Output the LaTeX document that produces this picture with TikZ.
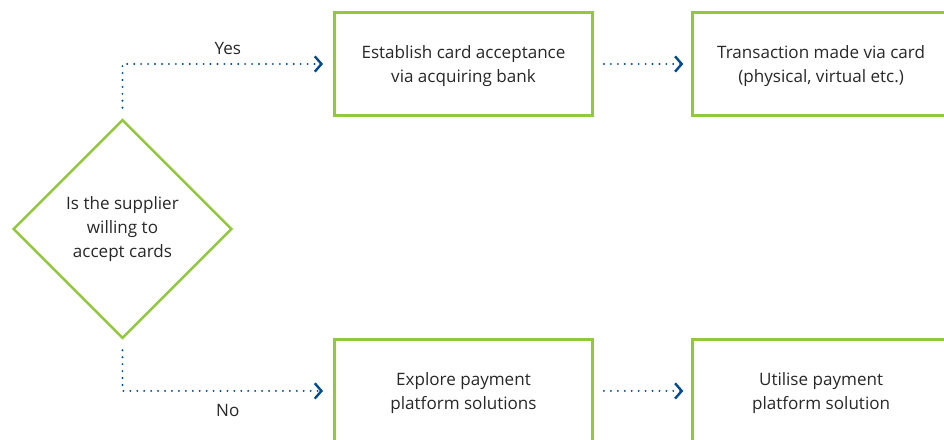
\documentclass[tikz,border=0pt]{standalone}
\usepackage{fontspec}
\setmainfont{Open Sans}
\usepackage{tikz}
\usetikzlibrary{arrows.meta, positioning, shapes.geometric}
\definecolor{lime}{RGB}{146,200,62}
\definecolor{navy}{RGB}{0,75,145}
\definecolor{ink}{RGB}{40,40,40}
\tikzset{
  stepbox/.style={rectangle, draw=lime, line width=2.2pt, fill=white,
              minimum width=193.5pt, minimum height=77.5pt, align=center,
              text depth=0pt, font=\fontsize{12.8}{18}\selectfont, text=ink},
  % losango da decisao
  dec/.style={diamond, draw=lime, line width=1.9pt, fill=white, aspect=1,
              minimum width=164pt, minimum height=164pt, inner sep=0pt,
              align=center, font=\fontsize{12.8}{18}\selectfont, text=ink},
  ar/.style={-{Straight Barb[length=5pt, width=11.5pt, line width=1.8pt]},
             draw=navy, line width=1.6pt, line cap=round,
             dash pattern=on 0pt off 5.2pt},
  lbl/.style={font=\fontsize{12.8}{14}\selectfont, text=ink}
}

\begin{document}
\begin{tikzpicture}[x=0.75pt, y=-0.75pt]
    \useasboundingbox (0,0) rectangle (944,439);
    \clip (0,0) rectangle (944,439);
    \node[dec] (ask) at (122.5,229) {Is the supplier\\willing to\\accept cards};
    \node[stepbox] (accept) at (463.5,64) {Establish card acceptance\\via acquiring bank};
    \node[stepbox, right=72.5pt of accept] (txn) {Transaction made via card\\(physical, virtual etc.)};
    \node[stepbox, below=165.5pt of accept] (explore) {Explore payment\\platform solutions};
    \node[stepbox, right=72.5pt of explore] (use) {Utilise payment\\platform solution};
    \draw[ar, shorten <=8pt, shorten >=7.5pt] (ask.north) |- (accept.west)
      node[lbl, pos=0.75, above=3pt] {Yes};
    \draw[ar, shorten <=8pt, shorten >=7.5pt] (ask.south) |- (explore.west)
      node[lbl, pos=0.75, below=6pt] {No};
    \draw[ar, shorten <=7.5pt, shorten >=5.5pt] (accept) -- (txn);
    \draw[ar, shorten <=7.5pt, shorten >=5.5pt] (explore) -- (use);
  \end{tikzpicture}
\end{document}
